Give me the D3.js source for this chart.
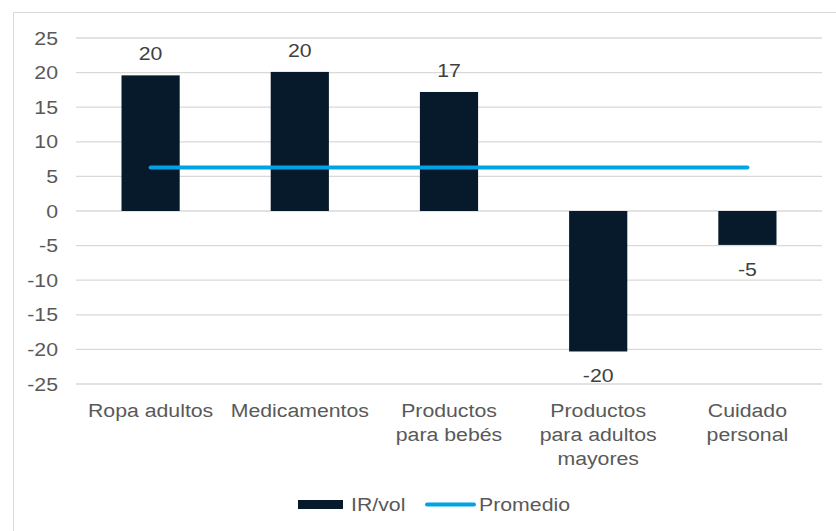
<!DOCTYPE html>
<html>
<head>
<meta charset="utf-8">
<script src="https://cdn.jsdelivr.net/npm/d3@7"></script>
<style>
  html, body { margin: 0; padding: 0; background: #ffffff; }
  svg { display: block; font-family: "Liberation Sans", Arial, sans-serif; }
</style>
</head>
<body>
<svg id="chart" width="836" height="531"></svg>
<script>
const categories = [
  ["Ropa adultos"],
  ["Medicamentos"],
  ["Productos", "para bebés"],
  ["Productos", "para adultos", "mayores"],
  ["Cuidado", "personal"]
];
const irVol = [19.6, 20.1, 17.2, -20.3, -4.9];
const irVolLabels = ["20", "20", "17", "-20", "-5"];
const promedio = [6.3, 6.3, 6.3, 6.3, 6.3];
const yTicks = [-25, -20, -15, -10, -5, 0, 5, 10, 15, 20, 25];
const seriesNames = ["IR/vol", "Promedio"];

const barColor = "#061a2b";
const lineColor = "#00a3e6";
const gridColor = "#d9d9d9";
const textColor = "#595959";
const labelColor = "#404040";
const fontSize = "19px";
const sx = 1.12; // horizontal stretch of glyphs seen in the reference

const svg = d3.select("#chart");

function addText(parent, px, py, str, anchor, color) {
  const g = parent.append("g")
    .attr("transform", `translate(${px},${py}) scale(${sx},1)`);
  return g.append("text")
    .attr("x", 0).attr("y", 0)
    .attr("text-anchor", anchor)
    .attr("fill", color)
    .style("font-size", fontSize)
    .text(str);
}

// outer chart border
svg.append("rect")
  .attr("x", 13.5).attr("y", 12.5)
  .attr("width", 840).attr("height", 540)
  .attr("fill", "none")
  .attr("stroke", "#d9d9d9")
  .attr("stroke-width", 1);

const plotLeft = 76, plotRight = 822, plotTop = 38, plotBottom = 384;

const x = d3.scaleBand()
  .domain(d3.range(categories.length))
  .range([plotLeft, plotRight])
  .paddingInner(0.61)
  .paddingOuter(0.305);

const y = d3.scaleLinear()
  .domain([-25, 25])
  .range([plotBottom, plotTop]);

// gridlines
svg.append("g")
  .selectAll("line")
  .data(yTicks)
  .join("line")
  .attr("x1", plotLeft).attr("x2", plotRight)
  .attr("y1", d => y(d)).attr("y2", d => y(d))
  .attr("stroke", gridColor)
  .attr("stroke-width", 1.3);

// y axis labels
const yAxis = d3.axisLeft(y).tickValues(yTicks).tickFormat(d => String(d)).tickSize(0).tickPadding(0);
const yg = svg.append("g")
  .attr("transform", `translate(${plotLeft - 18},0)`)
  .call(yAxis);
yg.select(".domain").remove();
yg.selectAll("text")
  .attr("fill", textColor)
  .attr("transform", `scale(${sx},1)`)
  .style("font-size", fontSize)
  .style("font-family", "'Liberation Sans', Arial, sans-serif");

// bars
svg.append("g")
  .selectAll("rect")
  .data(irVol)
  .join("rect")
  .attr("x", (d, i) => x(i))
  .attr("width", x.bandwidth())
  .attr("y", d => y(Math.max(0, d)))
  .attr("height", d => Math.abs(y(d) - y(0)))
  .attr("fill", barColor);

// bar value labels
const vg = svg.append("g");
irVol.forEach((d, i) => {
  addText(vg, x(i) + x.bandwidth() / 2, d >= 0 ? y(d) - 15 : y(d) + 31,
    irVolLabels[i], "middle", labelColor);
});

// average line
const line = d3.line()
  .x((d, i) => x(i) + x.bandwidth() / 2)
  .y(d => y(d));
svg.append("path")
  .datum(promedio)
  .attr("d", line)
  .attr("fill", "none")
  .attr("stroke", lineColor)
  .attr("stroke-width", 4)
  .attr("stroke-linecap", "round");

// category labels
const cg = svg.append("g");
categories.forEach((lines, i) => {
  lines.forEach((l, j) => {
    addText(cg, x(i) + x.bandwidth() / 2, 417 + j * 24, l, "middle", textColor);
  });
});

// legend
const lg = svg.append("g");
lg.append("rect")
  .attr("x", 298).attr("y", 500)
  .attr("width", 45).attr("height", 9)
  .attr("fill", barColor);
addText(lg, 351, 511, seriesNames[0], "start", textColor);
lg.append("line")
  .attr("x1", 427).attr("x2", 474)
  .attr("y1", 504.5).attr("y2", 504.5)
  .attr("stroke", lineColor)
  .attr("stroke-width", 4)
  .attr("stroke-linecap", "round");
addText(lg, 479, 511, seriesNames[1], "start", textColor);
</script>
</body>
</html>
